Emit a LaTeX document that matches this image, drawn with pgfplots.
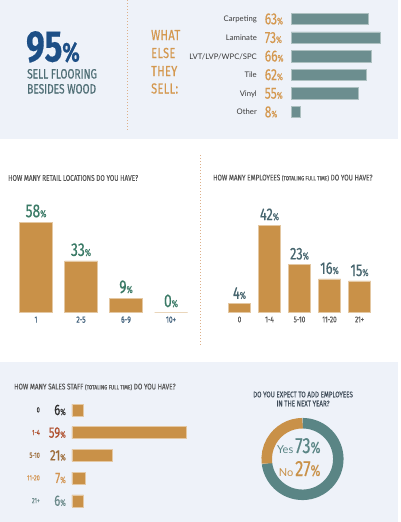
\documentclass[border=0pt]{standalone}
\usepackage{pgfplots}
\pgfplotsset{compat=1.18}
\usepackage{fontspec}
\setmainfont{Fira Sans}
\newfontfamily\din[FakeStretch=0.75,FakeBold=0.4]{Fira Sans}
\newfontfamily\dint[FakeStretch=0.78,FakeBold=0.3]{Fira Sans}
\newfontfamily\dinsp[FakeStretch=0.75,LetterSpace=3,FakeBold=0.5]{Fira Sans}
\newfontfamily\lato{Lato}
\definecolor{panel}{HTML}{EEF2F9}
\definecolor{barorange}{HTML}{C99148}
\definecolor{tealbar}{HTML}{6C8E8F}
\definecolor{blue95}{HTML}{1D4F86}
\definecolor{subgray}{HTML}{4F6E75}
\definecolor{pctorange}{HTML}{D4984F}
\definecolor{retgreen}{HTML}{3A7A66}
\definecolor{retx}{HTML}{3B5C78}
\definecolor{empgray}{HTML}{46656E}
\definecolor{titlegray}{HTML}{585858}
\definecolor{catgray}{HTML}{3A3A3A}
\definecolor{donutteal}{HTML}{5A8585}
\definecolor{dotc}{HTML}{DDB08A}
\definecolor{sc0}{HTML}{2E2E2E}
\definecolor{sc1}{HTML}{B0502E}
\definecolor{sc2}{HTML}{9C6B38}
\definecolor{sc3}{HTML}{D39450}
\definecolor{sc4}{HTML}{6B8A8A}
\definecolor{donuttitle}{HTML}{3D4A57}
\newcommand{\toplab}[2]{\raisebox{2.4pt}{\lato\fontsize{7.7}{8}\selectfont\color{catgray}#1}\hspace{8pt}\makebox[23pt][l]{\din\color{pctorange}\fontsize{16}{16}\selectfont #2{\fontsize{9.5}{9.5}\selectfont\%}}}
\newcommand{\slab}[3]{\raisebox{2.6pt}{\din\fontsize{7.5}{8}\selectfont\color{#1}#2}\hspace{6pt}\makebox[20pt][r]{\din\color{#1}\fontsize{15}{15}\selectfont #3{\fontsize{9}{9}\selectfont\%}}}
\begin{document}
\begin{tikzpicture}
\useasboundingbox (0pt,0pt) rectangle (400pt,-522pt);
\fill[white] (0pt,0pt) rectangle (400pt,-522pt);
\fill[panel] (0pt,0pt) rectangle (398pt,-139pt);
\fill[panel] (0pt,-362pt) rectangle (398pt,-522pt);
\draw[dotc, line width=0.7pt, dash pattern=on 1.2pt off 1.8pt] (127pt,0pt) -- (127pt,-130pt);
\draw[dotc, line width=0.7pt, dash pattern=on 1.2pt off 1.8pt] (200pt,-155pt) -- (200pt,-345pt);
% 95% block
\node[anchor=base west, inner sep=0pt, text=blue95, font=\din\bfseries\fontsize{44}{44}\selectfont] at (26pt,-61.5pt) {95{\fontsize{27}{27}\selectfont\%}};
\node[anchor=base west, inner sep=0pt, text=subgray, font=\din\fontsize{13.5}{13.5}\selectfont] at (27pt,-78.5pt) {SELL FLOORING};
\node[anchor=base west, inner sep=0pt, text=subgray, font=\din\fontsize{13.5}{13.5}\selectfont] at (27pt,-93.5pt) {BESIDES WOOD};
% what else they sell
\node[anchor=base west, inner sep=0pt, text=pctorange, font=\dinsp\fontsize{14.5}{14.5}\selectfont] at (151pt,-40pt) {WHAT};
\node[anchor=base west, inner sep=0pt, text=pctorange, font=\dinsp\fontsize{14.5}{14.5}\selectfont] at (151pt,-58pt) {ELSE};
\node[anchor=base west, inner sep=0pt, text=pctorange, font=\dinsp\fontsize{14.5}{14.5}\selectfont] at (151pt,-76pt) {THEY};
\node[anchor=base west, inner sep=0pt, text=pctorange, font=\dinsp\fontsize{14.5}{14.5}\selectfont] at (151pt,-93.5pt) {SELL:};
\begin{axis}[at={(291pt,-19pt)}, anchor=origin, x=1.22pt, y=18.6pt, y dir=reverse,
  xbar, bar width=11.5pt, xmin=0, xmax=75, ymin=-0.5, ymax=5.5, clip=false,
  axis line style={draw=none}, major tick length=0pt, xtick=\empty,
  ytick={0,1,2,3,4,5},
  yticklabels={{\toplab{Carpeting}{63}},{\toplab{Laminate}{73}},{\toplab{LVT/LVP/WPC/SPC}{66}},{\toplab{Tile}{62}},{\toplab{Vinyl}{55}},{\toplab{Other}{8}}},
  yticklabel style={anchor=east, inner sep=0pt, xshift=-3pt}]
\addplot[fill=tealbar, draw=tealbar!55!white, line width=0.6pt] coordinates {(63,0) (73,1) (66,2) (62,3) (55,4) (8,5)};
\end{axis}
% retail locations
\node[anchor=west, inner sep=0pt, text=titlegray, font=\dint\fontsize{8.2}{8.5}\selectfont] at (8pt,-178pt) {HOW MANY RETAIL LOCATIONS DO YOU HAVE?};
\begin{axis}[at={(36pt,-312pt)}, anchor=origin, x=45pt, y=1.55pt, ybar, bar width=33pt,
  xmin=-0.5, xmax=3.5, ymin=0, ymax=62, clip=false,
  axis line style={draw=none}, major tick length=0pt, ytick=\empty,
  xtick={0,1,2,3}, xticklabels={1,2-5,6-9,10+},
  xticklabel style={font=\din\fontsize{9}{9}\selectfont, text=retx, yshift=-1pt},
  /pgf/number format/assume math mode=true,
  nodes near coords={\pgfmathprintnumber{\pgfplotspointmeta}{\fontsize{10}{10}\selectfont\%}},
  every node near coord/.append style={font=\din\fontsize{18.5}{18.5}\selectfont, text=retgreen, anchor=south, yshift=1pt}]
\addplot[fill=barorange, draw=barorange!50!white, line width=0.6pt] coordinates {(0,58) (1,33) (2,9) (3,0)};
\end{axis}
% employees
\node[anchor=west, inner sep=0pt, text=titlegray, font=\dint\fontsize{8.2}{8.5}\selectfont] at (213pt,-178pt) {HOW MANY EMPLOYEES {\fontsize{6.2}{6.2}\selectfont (TOTALING FULL TIME)} DO YOU HAVE?};
\begin{axis}[at={(239.5pt,-312pt)}, anchor=origin, x=30pt, y=2.07pt, ybar, bar width=22pt,
  xmin=-0.5, xmax=4.5, ymin=0, ymax=45, clip=false,
  axis line style={draw=none}, major tick length=0pt, ytick=\empty,
  xtick={0,1,2,3,4}, xticklabels={0,1-4,5-10,11-20,21+},
  xticklabel style={font=\din\fontsize{8.5}{8.5}\selectfont, text=titlegray, yshift=-1pt},
  /pgf/number format/assume math mode=true,
  nodes near coords={\pgfmathprintnumber{\pgfplotspointmeta}{\fontsize{10}{10}\selectfont\%}},
  every node near coord/.append style={font=\din\fontsize{17}{17}\selectfont, text=empgray, anchor=south, yshift=1pt}]
\addplot[fill=barorange, draw=barorange!50!white, line width=0.6pt] coordinates {(0,4) (1,42) (2,23) (3,16) (4,15)};
\end{axis}
% sales staff
\node[anchor=west, inner sep=0pt, text=titlegray, font=\dint\fontsize{8.2}{8.5}\selectfont] at (14pt,-387pt) {HOW MANY SALES STAFF {\fontsize{6.2}{6.2}\selectfont (TOTALING FULL TIME)} DO YOU HAVE?};
\begin{axis}[at={(72pt,-410pt)}, anchor=origin, x=1.93pt, y=22.7pt, y dir=reverse,
  xbar, bar width=12pt, xmin=0, xmax=60, ymin=-0.5, ymax=4.5, clip=false,
  axis line style={draw=none}, major tick length=0pt, xtick=\empty,
  ytick={0,1,2,3,4},
  yticklabels={{\slab{sc0}{0}{6}},{\slab{sc1}{1-4}{59}},{\slab{sc2}{5-10}{21}},{\slab{sc3}{11-20}{7}},{\slab{sc4}{21+}{6}}},
  yticklabel style={anchor=east, inner sep=0pt, xshift=-6pt}]
\addplot[fill=barorange, draw=barorange!50!white, line width=0.6pt] coordinates {(6,0) (59,1) (21,2) (7,3) (6,4)};
\end{axis}
% donut
\node[anchor=center, inner sep=0pt, text=donuttitle, font=\dint\fontsize{8}{8}\selectfont] at (303pt,-394.5pt) {DO YOU EXPECT TO ADD EMPLOYEES};
\node[anchor=center, inner sep=0pt, text=donuttitle, font=\dint\fontsize{8}{8}\selectfont] at (303pt,-403.5pt) {IN THE NEXT YEAR?};
\def\donutYes{73}\def\donutNo{27}
\begin{axis}[at={(302.5pt,-459pt)}, anchor=origin, x=1pt, y=1pt, hide axis,
  xmin=-45, xmax=45, ymin=-45, ymax=45, clip=false]
\addplot[draw=none] coordinates {(0,0)};
\pgfmathsetmacro{\angNo}{90+\donutNo*3.6}
\draw[donutteal, line width=10.5pt] (axis cs:0,0) ++(\angNo:35.8pt) arc[start angle=\angNo, end angle=450, radius=35.8pt];
\draw[barorange, line width=10.5pt] (axis cs:0,0) ++(90:35.8pt) arc[start angle=90, end angle=\angNo, radius=35.8pt];
\end{axis}
\node[anchor=base east, inner sep=0pt, text=donutteal, font=\lato\fontsize{11}{11}\selectfont] at (293.5pt,-453pt) {Yes};
\node[anchor=base west, inner sep=0pt, text=donutteal, font=\din\fontsize{22}{22}\selectfont] at (295pt,-453pt) {73{\fontsize{16}{16}\selectfont\%}};
\node[anchor=base east, inner sep=0pt, text=barorange, font=\lato\fontsize{11}{11}\selectfont] at (293.5pt,-476pt) {No};
\node[anchor=base west, inner sep=0pt, text=barorange, font=\din\fontsize{22}{22}\selectfont] at (295pt,-476pt) {27{\fontsize{16}{16}\selectfont\%}};
\end{tikzpicture}
\end{document}
